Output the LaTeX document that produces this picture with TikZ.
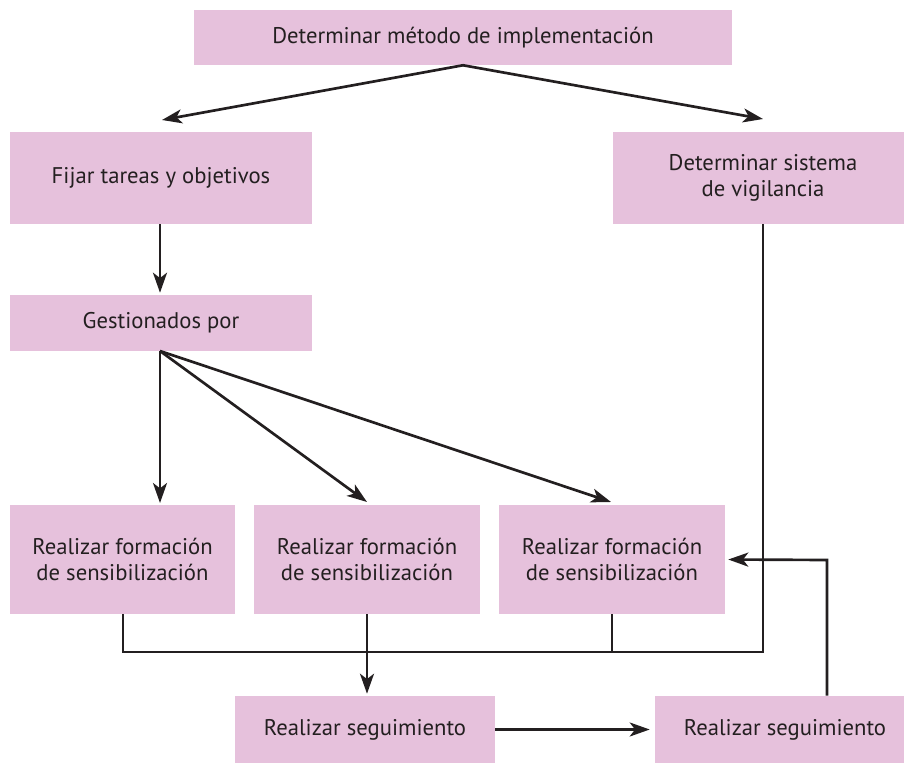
\documentclass[tikz,border=0pt]{standalone}
\usepackage{fontspec}
\setmainfont{PT Sans}
\usetikzlibrary{arrows.meta}
\definecolor{boxpink}{HTML}{E6C1DC}
\definecolor{ink}{HTML}{231F20}
\begin{document}
\begin{tikzpicture}[x=0.75pt,y=-0.75pt,
  box/.style={fill=boxpink,draw=none,inner sep=0pt,align=center,text=ink,
    font=\fontsize{17}{19.5}\selectfont},
  conn/.style={draw=ink,line width=2pt},
  arr/.style={conn,-{Stealth[length=15pt,width=10.5pt,inset=4pt]}}]
\useasboundingbox (0,0) rectangle (904,763);
\node[box,minimum width=538*0.75pt,minimum height=55*0.75pt] (top) at (463,37.5) {Determinar método de implementación};
\node[box,minimum width=302*0.75pt,minimum height=92*0.75pt] (fijar) at (161,178) {Fijar tareas y objetivos};
\node[box,minimum width=300*0.75pt,minimum height=92*0.75pt] (vig) at (763,178) {Determinar sistema\\de vigilancia};
\node[box,minimum width=302*0.75pt,minimum height=56*0.75pt] (gest) at (161,323) {Gestionados por};
\node[box,minimum width=225*0.75pt,minimum height=109*0.75pt] (f1) at (122.5,559.5) {Realizar formación\\de sensibilización};
\node[box,minimum width=226*0.75pt,minimum height=109*0.75pt] (f2) at (367,559.5) {Realizar formación\\de sensibilización};
\node[box,minimum width=226*0.75pt,minimum height=109*0.75pt] (f3) at (612,559.5) {Realizar formación\\de sensibilización};
\node[box,minimum width=260*0.75pt,minimum height=67*0.75pt] (s1) at (365,729.5) {Realizar seguimiento};
\node[box,minimum width=260*0.75pt,minimum height=67*0.75pt] (s2) at (785,729.5) {Realizar seguimiento};
% coordinates
\coordinate (tl) at (162,120);
\coordinate (tr) at (763,119);
\coordinate (gs) at (160,351);
\coordinate (g1) at (160,503);
\coordinate (g2) at (367,502);
\coordinate (g3) at (611,502);
\coordinate (b1) at (123,652);
\coordinate (b3) at (612,652);
\coordinate (b4) at (763,652);
\coordinate (r) at (827,560);
% connectors
\draw[arr] (top.south) -- (tl);
\draw[arr] (top.south) -- (tr);
\draw[arr,shorten >=2*0.75pt] (fijar.south -| gs) -- (gest.north -| gs);
\draw[arr] (gs) -- (g1);
\draw[arr] (gs) -- (g2);
\draw[arr] (gs) -- (g3);
\draw[conn] (f1.south -| b1) -- (b1) -- (b4) -- (vig.south -| b4);
\draw[conn] (f3.south -| b3) -- (b3);
\draw[arr,shorten >=2*0.75pt] (f2.south) -- (s1.north -| f2.south);
\draw[arr,shorten >=5*0.75pt] (s1.east) -- (s2.west);
\draw[arr,shorten >=3*0.75pt] (s2.north -| r) -- (r) -- (f3.east);
\end{tikzpicture}
\end{document}
